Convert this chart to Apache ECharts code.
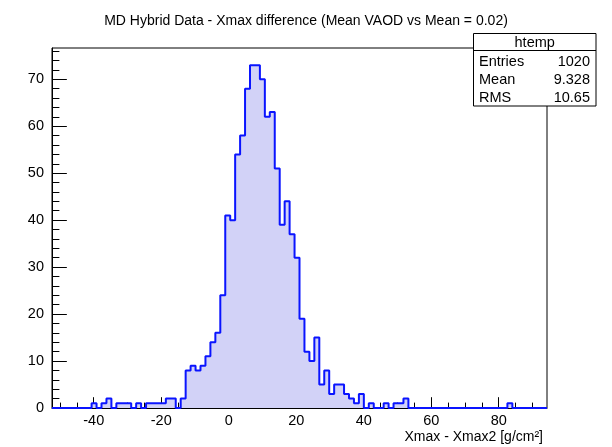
<!DOCTYPE html>
<html><head><meta charset="utf-8">
<script src="https://cdn.jsdelivr.net/npm/echarts@6/dist/echarts.min.js"></script>
<style>html,body{margin:0;padding:0;background:#fff}#c{width:612px;height:447px}</style>
</head><body><div id="c"></div>
<script>
// ---- data ----
const xMin = -52.36;
const xMax = 94.31;
const binCounts = [
  0,0,0,0,0,0,0,0,1,0,
  1,2,0,1,1,1,0,1,0,1,
  1,1,1,2,2,0,2,8,9,8,
  9,11,14,16,24,41,40,54,58,68,
  73,73,70,62,63,51,39,44,37,32,
  19,12,10,15,5,8,3,5,5,3,
  2,1,3,0,1,0,0,1,0,1,
  1,2,0,0,0,0,0,0,0,0,
  0,0,0,0,0,0,0,0,0,0,
  0,0,1,0,0,0,0,0,0,0
];
const yMax = 76.65;
const xMajorTicks = [-40,-20,0,20,40,60,80];
const xMinorTicks = [-50,-45,-35,-30,-25,-15,-10,-5,5,10,15,25,30,35,45,50,55,65,70,75,85,90];
const yMajorTicks = [0,10,20,30,40,50,60,70];
const yMinorTicks = [2,4,6,8,12,14,16,18,22,24,26,28,32,34,36,38,42,44,46,48,52,54,56,58,62,64,66,68,72,74,76];
const titleText = 'MD Hybrid Data - Xmax difference (Mean VAOD vs Mean = 0.02)';
const xAxisTitle = 'Xmax - Xmax2 [g/cm\u00B2]';
const statsName = 'htemp';
const statsLabels = ['Entries','Mean','RMS'];
const statsValues = ['1020','9.328','10.65'];

// ---- build ----
const binWidth = (xMax - xMin) / binCounts.length;
const stepData = binCounts.map((v, i) => [xMin + i * binWidth, v]);
stepData.push([xMax, binCounts[binCounts.length - 1]]);

const FONT = '"Liberation Sans", Arial, Helvetica, sans-serif';
const chart = echarts.init(document.getElementById('c'), null, {renderer: 'canvas'});

const statsGraphics = [
  {type:'rect', z:100, shape:{x:473.5, y:33.5, width:122.5, height:72.5}, style:{fill:'#fff', stroke:'#000', lineWidth:1}},
  {type:'line', z:101, shape:{x1:473.5, y1:50.5, x2:596, y2:50.5}, style:{stroke:'#000', lineWidth:1}},
  {type:'text', z:101, x:534.7, y:42.5, style:{text:statsName, font:'14.5px ' + FONT, fill:'#000', textAlign:'center', textVerticalAlign:'middle'}}
];
const rowY = [61.5, 80, 98];
statsLabels.forEach((lab, i) => {
  statsGraphics.push({type:'text', z:101, x:479, y:rowY[i], style:{text:lab, font:'14.5px ' + FONT, fill:'#000', textAlign:'left', textVerticalAlign:'middle'}});
  statsGraphics.push({type:'text', z:101, x:590, y:rowY[i], style:{text:statsValues[i], font:'14.5px ' + FONT, fill:'#000', textAlign:'right', textVerticalAlign:'middle'}});
});

const option = {
  animation: false,
  backgroundColor: '#fff',
  title: [
    {text: titleText, left: 'center', top: 9, textStyle: {fontSize: 14, fontWeight: 'normal', color: '#000', fontFamily: FONT}},
    {text: xAxisTitle, right: 64, top: 425, textStyle: {fontSize: 14, fontWeight: 'normal', color: '#000', fontFamily: FONT}}
  ],
  grid: {left: 52, top: 48, width: 495, height: 360, show: true, borderColor: '#000', borderWidth: 1, backgroundColor: 'transparent'},
  xAxis: [
    {type:'value', min:xMin, max:xMax, position:'bottom',
     axisLine:{show:true, onZero:false, lineStyle:{color:'#000', width:1}},
     axisTick:{show:true, inside:true, length:10.8, customValues:xMajorTicks, lineStyle:{color:'#000'}},
     axisLabel:{customValues:xMajorTicks, fontSize:14.5, color:'#000', fontFamily:FONT, margin:5},
     splitLine:{show:false}},
    {type:'value', min:xMin, max:xMax, position:'bottom',
     axisLine:{show:false, onZero:false},
     axisTick:{show:true, inside:true, length:5.4, customValues:xMinorTicks, lineStyle:{color:'#000'}},
     axisLabel:{show:false}, splitLine:{show:false}}
  ],
  yAxis: [
    {type:'value', min:0, max:yMax, position:'left',
     axisLine:{show:true, onZero:false, lineStyle:{color:'#000', width:1}},
     axisTick:{show:true, inside:true, length:14.85, customValues:yMajorTicks, lineStyle:{color:'#000'}},
     axisLabel:{customValues:yMajorTicks, fontSize:14.5, color:'#000', fontFamily:FONT, margin:8},
     splitLine:{show:false}},
    {type:'value', min:0, max:yMax, position:'left',
     axisLine:{show:false, onZero:false},
     axisTick:{show:true, inside:true, length:7.4, customValues:yMinorTicks, lineStyle:{color:'#000'}},
     axisLabel:{show:false}, splitLine:{show:false}}
  ],
  series: [{
    type: 'line',
    xAxisIndex: 0, yAxisIndex: 0,
    data: stepData,
    step: 'end',
    symbol: 'none',
    clip: true,
    lineStyle: {color: '#0a14ff', width: 2},
    areaStyle: {color: '#d2d2f7', opacity: 1},
    z: 5
  }],
  graphic: statsGraphics
};
chart.setOption(option);
</script>
</body></html>
